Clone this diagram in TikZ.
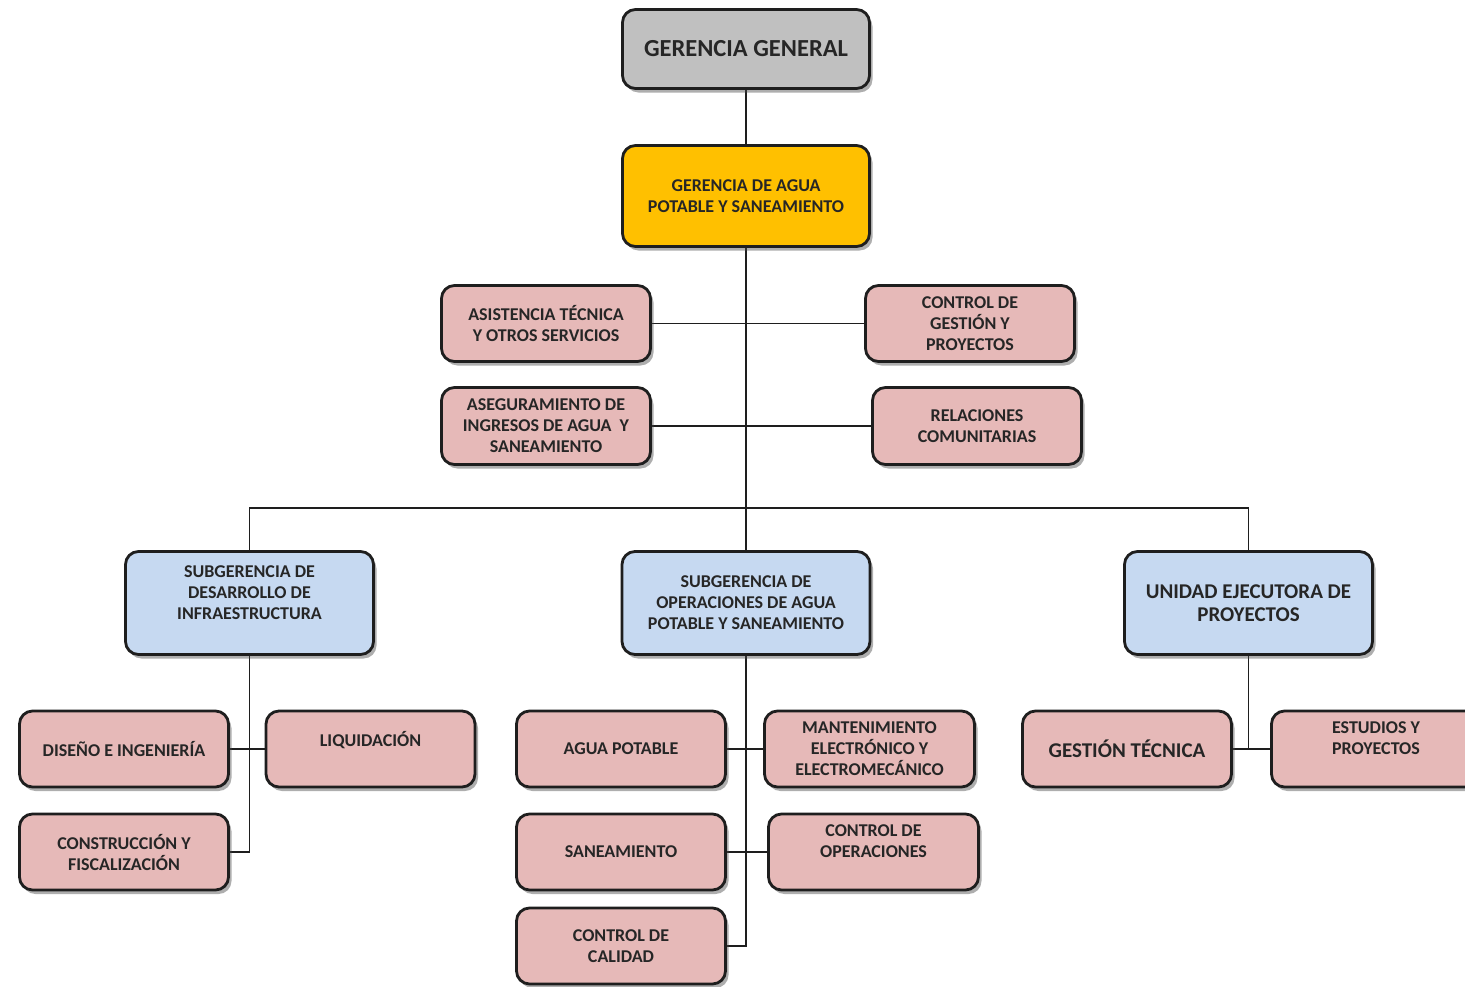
\documentclass[tikz,border=0pt]{standalone}
\usepackage{fontspec}
\setmainfont{Carlito}
\usetikzlibrary{shadows}
\definecolor{pinkfill}{HTML}{E6B9B8}
\definecolor{bluefill}{HTML}{C6D9F1}
\definecolor{goldfill}{HTML}{FFC000}
\definecolor{grayfill}{HTML}{C0C0C0}
\definecolor{edgecol}{HTML}{1E1E1E}
\definecolor{txtcol}{HTML}{262626}
\pgfdeclarelayer{background}
\pgfsetlayers{background,main}
\begin{document}
\begin{tikzpicture}[x=1pt,y=-1pt,
  orgbox/.style={draw=edgecol, line width=2.8pt, rounded corners=13pt, align=center,
    text=txtcol, inner sep=0pt,
    font=\bfseries\fontsize{18}{21}\selectfont,
    drop shadow={shadow xshift=3pt, shadow yshift=-4pt, opacity=0.45, fill=black!70}},
  pinkbox/.style={orgbox, fill=pinkfill, minimum width=209pt, minimum height=76pt},
  bluebox/.style={orgbox, fill=bluefill, minimum width=248pt, minimum height=103pt},
  bigtext/.style={font=\bfseries\fontsize{21}{23}\selectfont},
  conn/.style={draw=edgecol, line width=1.6pt}
]
\useasboundingbox (0,0) rectangle (1465,986);

\node[orgbox, fill=grayfill, minimum width=247pt, minimum height=79pt,
  font=\bfseries\fontsize{24.5}{28}\selectfont] (gg) at (746,49) {GERENCIA GENERAL};
\node[orgbox, fill=goldfill, minimum width=247pt, minimum height=101pt] (ga) at (746,196)
  {GERENCIA DE AGUA\\POTABLE Y SANEAMIENTO};

\node[pinkbox] (at) at (546,323.5) {ASISTENCIA TÉCNICA\\Y OTROS SERVICIOS};
\node[pinkbox] (cg) at (970,323.5) {CONTROL DE\\GESTIÓN Y\\PROYECTOS};
\node[pinkbox, minimum height=77pt] (as) at (546,426) {ASEGURAMIENTO DE\\INGRESOS DE AGUA~~Y\\SANEAMIENTO};
\node[pinkbox, minimum height=77pt] (rc) at (977,426) {RELACIONES\\COMUNITARIAS};

\node[bluebox] (sd) at (249.5,603) {SUBGERENCIA DE\\DESARROLLO DE\\INFRAESTRUCTURA\\\mbox{}};
\node[bluebox] (so) at (746,603) {SUBGERENCIA DE\\OPERACIONES DE AGUA\\POTABLE Y SANEAMIENTO};
\node[bluebox, bigtext] (ue) at (1248.5,603) {UNIDAD EJECUTORA DE\\PROYECTOS};

\node[pinkbox] (di) at (124,749) {DISEÑO E INGENIERÍA};
\node[pinkbox] (li) at (370.5,749) {LIQUIDACIÓN\\\mbox{}};
\node[pinkbox] (co) at (124,852) {CONSTRUCCIÓN Y\\FISCALIZACIÓN};

\node[pinkbox] (ap) at (621,749) {AGUA POTABLE};
\node[pinkbox, minimum width=210pt] (ma) at (869.5,749) {MANTENIMIENTO\\ELECTRÓNICO Y\\ELECTROMECÁNICO};
\node[pinkbox] (sa) at (621,852) {SANEAMIENTO};
\node[pinkbox, minimum width=210pt] (op) at (873.5,852) {CONTROL DE\\OPERACIONES\\\mbox{}};
\node[pinkbox] (cc) at (621,946) {CONTROL DE\\CALIDAD};

\node[pinkbox, bigtext] (gt) at (1127,749) {GESTIÓN TÉCNICA};
\node[pinkbox] (es) at (1376,749) {ESTUDIOS Y\\PROYECTOS\\\mbox{}};

\coordinate (bar) at (746,508);

\begin{pgfonlayer}{background}
\fill[white] (0,0) rectangle (1465,986);
\draw[conn] (gg.south) -- (ga.north);
\draw[conn] (ga.south) -- (bar);
\draw[conn] (sd.north) |- (bar) -| (ue.north);
\draw[conn] (bar) -- (so.north);
\draw[conn] (at.east) -- (cg.west);
\draw[conn] (as.east) -- (rc.west);
\draw[conn] (sd.south) |- (co.east);
\draw[conn] (di.east) -- (li.west);
\draw[conn] (so.south) |- (cc.east);
\draw[conn] (ap.east) -- (ma.west);
\draw[conn] (sa.east) -- (op.west);
\draw[conn] (ue.south) -- (ue.south |- gt.east);
\draw[conn] (gt.east) -- (es.west);
\end{pgfonlayer}
\end{tikzpicture}
\end{document}
